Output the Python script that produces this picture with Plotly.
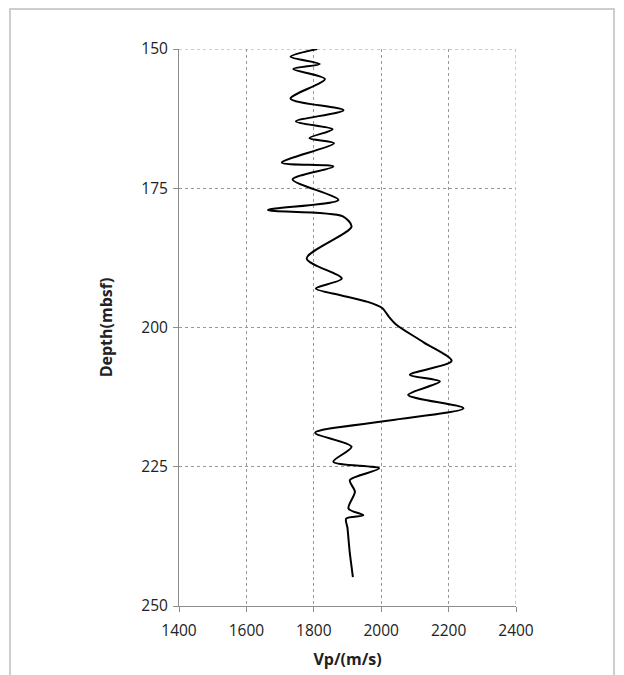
import plotly.graph_objects as go

depth = [150, 151.4, 152.7, 153.6, 155.4, 158.9, 161.0, 163.0, 164.4, 166.0, 166.9,
         170.4, 171.1, 173.4, 177.1, 178.9, 180.0, 181.9, 187.6, 191.2, 193.0,
         194.2, 195.4, 196.5, 198.0, 199.5, 202.7, 206.0, 208.5, 209.7, 212.1,
         214.5, 216.7, 218.9, 221.4, 224.1, 225.3, 227.4, 229.5, 232.5, 233.7,
         234.3, 236.0, 238.0, 240.0, 242.0, 244.8]
vp = [1810, 1731, 1818, 1739, 1833, 1731, 1888, 1747, 1856, 1787, 1860,
      1705, 1858, 1737, 1873, 1664, 1885, 1912, 1779, 1883, 1806,
      1880, 1960, 2003, 2022, 2045, 2127, 2209, 2085, 2174, 2080,
      2244, 2024, 1804, 1912, 1858, 1994, 1907, 1922, 1903, 1947,
      1896, 1900, 1903, 1906, 1910, 1916]

x_ticks = [1400, 1600, 1800, 2000, 2200, 2400]
y_ticks = [150, 175, 200, 225, 250]

fig = go.Figure()
fig.add_trace(go.Scatter(
    x=vp, y=depth, mode="lines",
    line=dict(color="black", width=2, shape="spline", smoothing=0.8),
    showlegend=False, hoverinfo="skip"))

font_fam = "Open Sans, Liberation Sans, sans-serif"
grid_col = "#999999"
fig.update_layout(
    width=624, height=675,
    margin=dict(l=179, r=108, t=49, b=69),
    paper_bgcolor="white", plot_bgcolor="white",
    font=dict(family=font_fam, size=15, color="#222"),
    xaxis=dict(range=[1400, 2400], tickvals=x_ticks, showgrid=True,
               gridcolor=grid_col, griddash="dot", gridwidth=1,
               showline=True, linecolor="#8c8c8c", linewidth=1,
               ticks="outside", ticklen=5, tickcolor="#8c8c8c",
               tickfont=dict(size=15.5), ticklabelstandoff=5,
               zeroline=False, automargin=False,
               title=dict(text="<b>Vp/(m/s)</b>", standoff=14,
                          font=dict(size=16, color="#222"))),
    yaxis=dict(range=[250, 150], tickvals=y_ticks, showgrid=True,
               gridcolor=grid_col, griddash="dot", gridwidth=1,
               showline=True, linecolor="#8c8c8c", linewidth=1,
               ticks="outside", ticklen=5, tickcolor="#8c8c8c",
               tickfont=dict(size=15.5), ticklabelstandoff=2,
               zeroline=False, automargin=False,
               title=dict(text="<b>Depth(mbsf)</b>", standoff=24,
                          font=dict(size=16, color="#222"))),
    shapes=[
        dict(type="rect", xref="paper", yref="paper",
             x0=-0.5015, x1=1.2908, y0=-0.3, y1=1.0718,
             line=dict(color="#bdbdbd", width=1.5), layer="below"),
        dict(type="line", xref="x", yref="y", x0=x_ticks[0], x1=x_ticks[-1],
             y0=y_ticks[0], y1=y_ticks[0],
             line=dict(color=grid_col, width=1, dash="dot"), layer="below"),
        dict(type="line", xref="x", yref="y", x0=x_ticks[-1], x1=x_ticks[-1],
             y0=y_ticks[0], y1=y_ticks[-1],
             line=dict(color=grid_col, width=1, dash="dot"), layer="below"),
    ],
)

fig.write_html("out.html")
